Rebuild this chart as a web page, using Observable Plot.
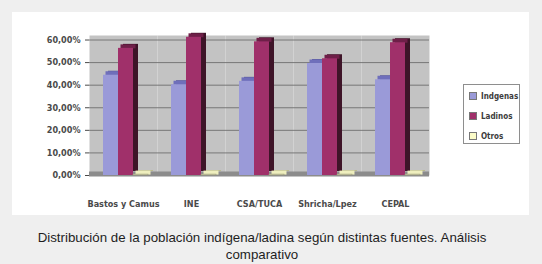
<!DOCTYPE html>
<html>
<head>
<meta charset="utf-8">
<script src="https://cdn.jsdelivr.net/npm/d3@7"></script>
<script src="https://cdn.jsdelivr.net/npm/@observablehq/plot@0.6"></script>
<style>
  html, body { margin: 0; padding: 0; }
  body { width: 542px; height: 264px; background: #efefef; position: relative; overflow: hidden; font-family: "Liberation Sans", Arial, sans-serif; }
  #panel { position: absolute; left: 12px; top: 12px; width: 517px; height: 203px; background: #fff; }
  #panel svg text { font-weight: bold; }
  #legend { position: absolute; left: 451px; top: 72px; width: 55px; height: 58px; border: 1px solid #8e8e8e; background: #fff;
            font-family: "Liberation Sans Narrow", "DejaVu Sans Condensed", sans-serif; font-size: 8px; font-weight: bold; color: #3c3c3c; }
  #legend .item { position: absolute; left: 5px; height: 10px; line-height: 10px; white-space: nowrap; }
  #legend .sw { display: inline-block; width: 6px; height: 6px; border: 1px solid #777; vertical-align: -1px; margin-right: 4px; }
  #caption { position: absolute; left: 0; top: 230px; width: 524px; text-align: center; font-size: 13.3px; line-height: 16.5px; color: #1e1e1e; }
</style>
</head>
<body>
<div id="panel"><div id="legend"></div></div>
<div id="caption">Distribución de la población indígena/ladina según distintas fuentes. Análisis<br>comparativo</div>
<script>
// Sources compared and the three population groups
const sources = ["Bastos y Camus", "INE", "CSA/TUCA", "Shricha/Lpez", "CEPAL"];
const series = ["Indgenas", "Ladinos", "Otros"];

// Share of the population per source (fractions)
const indigenas = [0.444, 0.402, 0.417, 0.496, 0.424];
const ladinos   = [0.563, 0.612, 0.592, 0.517, 0.588];
const otros     = [0.004, 0.004, 0.004, 0.004, 0.004];

// Value axis ticks
const yTicks = [0, 0.1, 0.2, 0.3, 0.4, 0.5, 0.6];

const values = [indigenas, ladinos, otros];
const rows = sources.flatMap((source, i) =>
  series.map((serie, j) => ({source, serie, value: values[j][i]}))
);

// front, top and side shades for the extruded columns
const shades = {
  "Indgenas": {front: "#9a9ad8", top: "#6f6fbb", side: "#5a5a9a"},
  "Ladinos":  {front: "#a0306a", top: "#6e1f48", side: "#3e1428"},
  "Otros":    {front: "#fbfbc8", top: "#efefbe", side: "#b8b88a"}
};

const fmt = d => (d * 100).toFixed(2).replace(".", ",") + "%";

const columnMarks = series.flatMap(serie => {
  const data = rows.filter(d => d.serie === serie);
  const c = shades[serie];
  return [
    Plot.barY(data, {fx: "source", x: "serie", y: "value", fill: c.side, dx: 5, dy: -4}),
    Plot.tickY(data, {fx: "source", x: "serie", y: "value", stroke: c.top, strokeWidth: 4, dx: 2.5, dy: -2}),
    Plot.barY(data, {fx: "source", x: "serie", y: "value", fill: c.front,
                     stroke: serie === "Otros" ? "#9a9a7a" : "none", strokeWidth: 0.6})
  ];
});

const chart = Plot.plot({
  width: 517,
  height: 203,
  marginLeft: 76,
  marginRight: 99,
  marginTop: 23,
  marginBottom: 40,
  style: {
    background: "transparent",
    fontFamily: "'Liberation Sans Narrow', 'DejaVu Sans Condensed', sans-serif",
    fontSize: "9px",
    color: "#4a4a4a"
  },
  fx: {domain: sources, padding: 0, axis: "bottom", label: null, tickSize: 0, tickPadding: 25},
  x: {domain: series, padding: 0, axis: null, insetLeft: 13, insetRight: 9},
  y: {domain: [0, 0.62], ticks: yTicks, tickFormat: fmt, label: null, tickSize: 4, tickPadding: 5},
  marks: [
    Plot.frame({fill: "#c3c3c3", stroke: "none"}),
    Plot.ruleY(yTicks.slice(1), {stroke: "#6e6e6e", strokeWidth: 0.9}),
    Plot.ruleY([0], {stroke: "#8c8c8c", strokeWidth: 5, dy: -1.5}),
    ...columnMarks
  ]
});
document.getElementById("panel").prepend(chart);

// Legend box
const legend = document.getElementById("legend");
series.forEach((serie, i) => {
  const item = document.createElement("div");
  item.className = "item";
  item.style.top = (7 + i * 20) + "px";
  const sw = document.createElement("span");
  sw.className = "sw";
  sw.style.background = shades[serie].front;
  item.appendChild(sw);
  item.appendChild(document.createTextNode(serie));
  legend.appendChild(item);
});
</script>
</body>
</html>
